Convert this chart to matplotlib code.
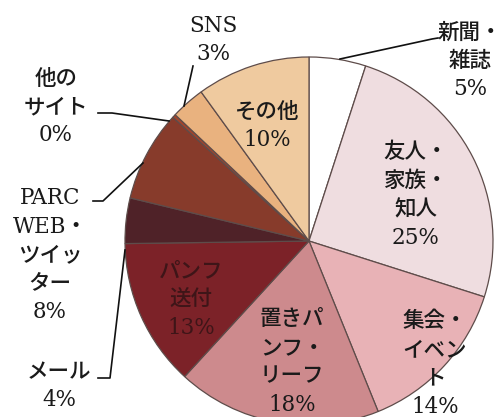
import matplotlib
matplotlib.use("Agg")
import matplotlib.pyplot as plt

# 情報源の内訳（時計回り、上から）
categories = ["新聞・\n雑誌", "友人・\n家族・\n知人", "集会・\nイベン\nト", "置きパ\nンフ・\nリーフ",
              "パンフ\n送付", "メール", "PARC\nWEB・\nツイッ\nター", "他の\nサイト", "SNS", "その他"]
values = [5, 25, 14, 18, 13, 4, 8, 0.3, 3, 10]
pct_labels = ["5%", "25%", "14%", "18%", "13%", "4%", "8%", "0%", "3%", "10%"]
colors = ["#ffffff", "#efdde0", "#e8b2b6", "#cd8a8d", "#7c2228", "#4f2228",
          "#873b2b", "#a3442c", "#e9b27f", "#efca9f"]

W, H = 503, 417
fig = plt.figure(figsize=(W / 100, H / 100), dpi=100)
ax = fig.add_axes([0, 0, 1, 1])

cx, cy, r = 309, H - 241, 184
ax.pie(values, colors=colors, startangle=90, counterclock=False, radius=r,
       center=(cx, cy), wedgeprops=dict(edgecolor="#5e4c4a", linewidth=0.9))
ax.set_xlim(0, W)
ax.set_ylim(0, H)
ax.set_aspect("equal")
ax.axis("off")

fam = ["DejaVu Serif", "Noto Sans CJK JP"]
txt = dict(family=fam, fontsize=15.5, fontweight="medium", ha="center", va="center",
           linespacing=1.38)

# ラベル位置 (画像座標, 上から)
pos = [(470, 61), (416, 195), (435, 364), (292, 362), (191, 300),
       (59, 386), (50, 255), (56, 107), (213, 40), (267, 126)]
for i, (x, y) in enumerate(pos):
    c = "#3e1518" if i == 4 else "#1a1a1a"
    ax.text(x, H - y, categories[i] + "\n" + pct_labels[i], color=c, **txt)

# 引き出し線
leaders = [
    [(340, 59), (432, 39), (438, 38)],
    [(98, 113), (112, 113), (169, 121)],
    [(193, 66), (184, 106)],
    [(93, 201), (103, 201), (143, 163)],
    [(98, 378), (110, 378), (125, 250)],
]
for pts in leaders:
    xs = [p[0] for p in pts]
    ys = [H - p[1] for p in pts]
    ax.plot(xs, ys, color="#111111", lw=1.2)

fig.savefig("out.png", dpi=100)
